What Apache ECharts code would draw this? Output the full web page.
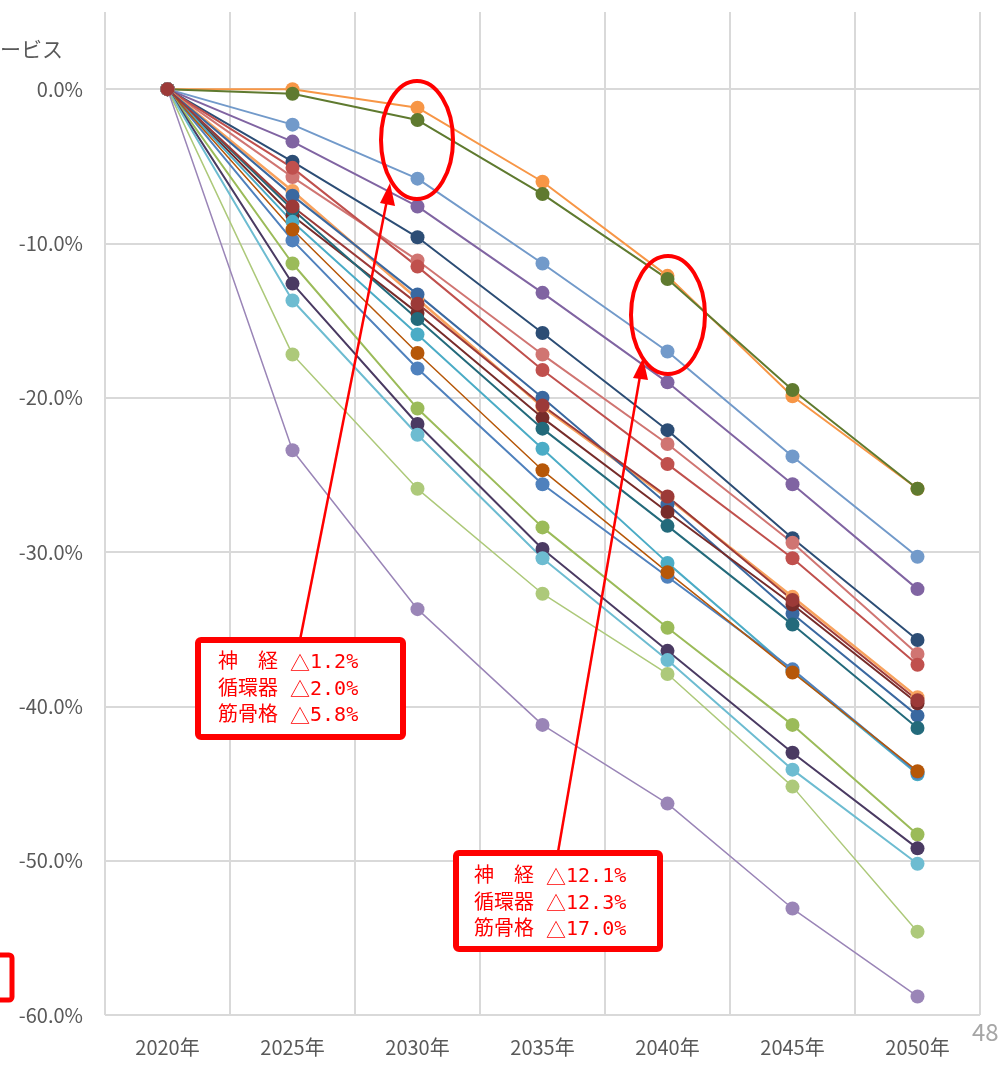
<!DOCTYPE html>
<html>
<head>
<meta charset="utf-8">
<script src="https://cdn.jsdelivr.net/npm/echarts@6/dist/echarts.min.js"></script>
<style>
  html, body { margin: 0; padding: 0; background: #fff; }
  #chart { width: 1005px; height: 1070px; }
</style>
</head>
<body>
<div id="chart"></div>
<script>
// years on the x axis
const years = ['2020年', '2025年', '2030年', '2035年', '2040年', '2045年', '2050年'];

// change rate vs 2020 (%)
const shinkei     = [0, 0.0, -1.2, -6.0, -12.1, -19.9, -25.9];
const junkanki    = [0, -0.3, -2.0, -6.8, -12.3, -19.5, -25.9];
const kinkotsu    = [0, -2.3, -5.8, -11.3, -17.0, -23.8, -30.3];
const purple      = [0, -3.4, -7.6, -13.2, -19.0, -25.6, -32.4];
const navy        = [0, -4.7, -9.6, -15.8, -22.1, -29.1, -35.7];
const salmon      = [0, -5.7, -11.1, -17.2, -23.0, -29.4, -36.6];
const red         = [0, -5.1, -11.5, -18.2, -24.3, -30.4, -37.3];
const lightOrange = [0, -6.6, -13.6, -20.6, -26.5, -32.9, -39.4];
const steelBlue   = [0, -6.9, -13.3, -20.0, -26.9, -34.0, -40.6];
const maroon      = [0, -8.2, -14.5, -21.3, -27.4, -33.4, -39.8];
const teal        = [0, -7.8, -14.9, -22.0, -28.3, -34.7, -41.4];
const cyan        = [0, -8.6, -15.9, -23.3, -30.7, -37.7, -44.4];
const blue        = [0, -9.8, -18.1, -25.6, -31.6, -37.6, -44.3];
const brownOrange = [0, -9.1, -17.1, -24.7, -31.3, -37.8, -44.2];
const yellowGreen = [0, -11.3, -20.7, -28.4, -34.9, -41.2, -48.3];
const darkPurple  = [0, -12.6, -21.7, -29.8, -36.4, -43.0, -49.2];
const lightCyan   = [0, -13.7, -22.4, -30.4, -37.0, -44.1, -50.2];
const lightGreen  = [0, -17.2, -25.9, -32.7, -37.9, -45.2, -54.6];
const lavender    = [0, -23.4, -33.7, -41.2, -46.3, -53.1, -58.8];
const darkRed     = [0, -7.6, -13.9, -20.5, -26.4, -33.1, -39.6];

// y axis range / ticks
const yMin = -60, yMax = 5, yStep = 10;

const lines = [
  ['神経', shinkei, '#F79646', 2],
  ['循環器', junkanki, '#5F7A2F', 2],
  ['筋骨格', kinkotsu, '#729ACA', 2],
  ['s4', purple, '#8064A2', 2],
  ['s5', navy, '#2C4D75', 2],
  ['s6', salmon, '#D07572', 2],
  ['s7', red, '#C0504D', 2],
  ['s8', lightOrange, '#F8A25E', 2.5],
  ['s9', steelBlue, '#3A68A0', 2],
  ['s10', maroon, '#772C2A', 2],
  ['s11', teal, '#236A7B', 2],
  ['s12', cyan, '#4BACC6', 2],
  ['s13', blue, '#4F81BD', 2],
  ['s14', brownOrange, '#B65708', 1.5],
  ['s15', yellowGreen, '#9BBB59', 2],
  ['s16', darkPurple, '#4A3A62', 2],
  ['s17', lightCyan, '#6DBCD1', 2],
  ['s18', lightGreen, '#ADC97A', 1.5],
  ['s19', lavender, '#9A85B7', 1.5],
  ['s20', darkRed, '#9C3A38', 2]
];

const chart = echarts.init(document.getElementById('chart'));
const font = '"Noto Sans CJK JP", "Noto Sans", sans-serif';
const noteFont = '20px "DejaVu Sans Mono", "Noto Sans CJK JP", monospace';
const noteRich = {
  t: { font: '20px "Noto Sans CJK JP", sans-serif', fill: '#FF0000', lineHeight: 26.5 }
};

const option = {
  animation: false,
  grid: { left: 105, right: 25, top: 12, bottom: 55 },
  xAxis: {
    type: 'category',
    data: years,
    boundaryGap: true,
    axisLine: { lineStyle: { color: '#D9D9D9', width: 2 } },
    axisTick: { show: false },
    axisLabel: { color: '#595959', fontSize: 20, fontFamily: font, margin: 22 },
    splitLine: { show: true, lineStyle: { color: '#D9D9D9', width: 2 } }
  },
  yAxis: {
    type: 'value',
    min: yMin, max: yMax, interval: yStep,
    axisLine: { show: false },
    axisTick: { show: false },
    axisLabel: {
      color: '#595959', fontSize: 20, fontFamily: font, margin: 22,
      formatter: v => v > 0 ? '' : v.toFixed(1) + '%'
    },
    splitLine: { showMaxLine: false, lineStyle: { color: '#D9D9D9', width: 2 } }
  },
  series: lines.map(([name, data, color, w]) => ({
    name, type: 'line', data,
    symbol: 'circle', symbolSize: 14,
    itemStyle: { color },
    lineStyle: { color, width: w }
  })),
  graphic: [
    { type: 'text', left: 0, top: 39, z: 100, style: { text: 'ービス', fill: '#595959', font: '21px ' + font } },
    { type: 'text', left: 972, top: 1020, z: 100, style: { text: '48', fill: '#A6A6A6', font: '24px ' + font } },
    // left partial box
    { type: 'rect', z: 100, shape: { x: -100, y: 955, width: 112, height: 45, r: 3 },
      style: { fill: 'none', stroke: '#FF0000', lineWidth: 5 } },
    // ellipses
    { type: 'ellipse', z: 100, shape: { cx: 417, cy: 140, rx: 36, ry: 59 },
      style: { fill: 'none', stroke: '#FF0000', lineWidth: 4 } },
    { type: 'ellipse', z: 100, shape: { cx: 668, cy: 315, rx: 37, ry: 59 },
      style: { fill: 'none', stroke: '#FF0000', lineWidth: 4 } },
    // arrows
    { type: 'line', z: 100, shape: { x1: 300, y1: 640, x2: 387, y2: 200 },
      style: { stroke: '#FF0000', lineWidth: 2.5 } },
    { type: 'polygon', z: 100, shape: { points: [[390, 183], [380, 203], [395, 206]] },
      style: { fill: '#FF0000' } },
    { type: 'line', z: 100, shape: { x1: 558, y1: 852, x2: 640, y2: 376 },
      style: { stroke: '#FF0000', lineWidth: 2.5 } },
    { type: 'polygon', z: 100, shape: { points: [[643, 358], [633, 378], [648, 380]] },
      style: { fill: '#FF0000' } },
    // boxes
    { type: 'rect', z: 100, shape: { x: 198, y: 640, width: 205, height: 97, r: 3 },
      style: { fill: '#fff', stroke: '#FF0000', lineWidth: 6 } },
    { type: 'text', z: 101, x: 218, y: 650,
      style: { text: '神　経 {t|△}1.2%\n循環器 {t|△}2.0%\n筋骨格 {t|△}5.8%', fill: '#FF0000', font: noteFont, lineHeight: 26.5, rich: noteRich } },
    { type: 'rect', z: 100, shape: { x: 456, y: 853, width: 204, height: 96, r: 3 },
      style: { fill: '#fff', stroke: '#FF0000', lineWidth: 6 } },
    { type: 'text', z: 101, x: 474, y: 864,
      style: { text: '神　経 {t|△}12.1%\n循環器 {t|△}12.3%\n筋骨格 {t|△}17.0%', fill: '#FF0000', font: noteFont, lineHeight: 26.5, rich: noteRich } }
  ]
};

chart.setOption(option);
</script>
</body>
</html>
